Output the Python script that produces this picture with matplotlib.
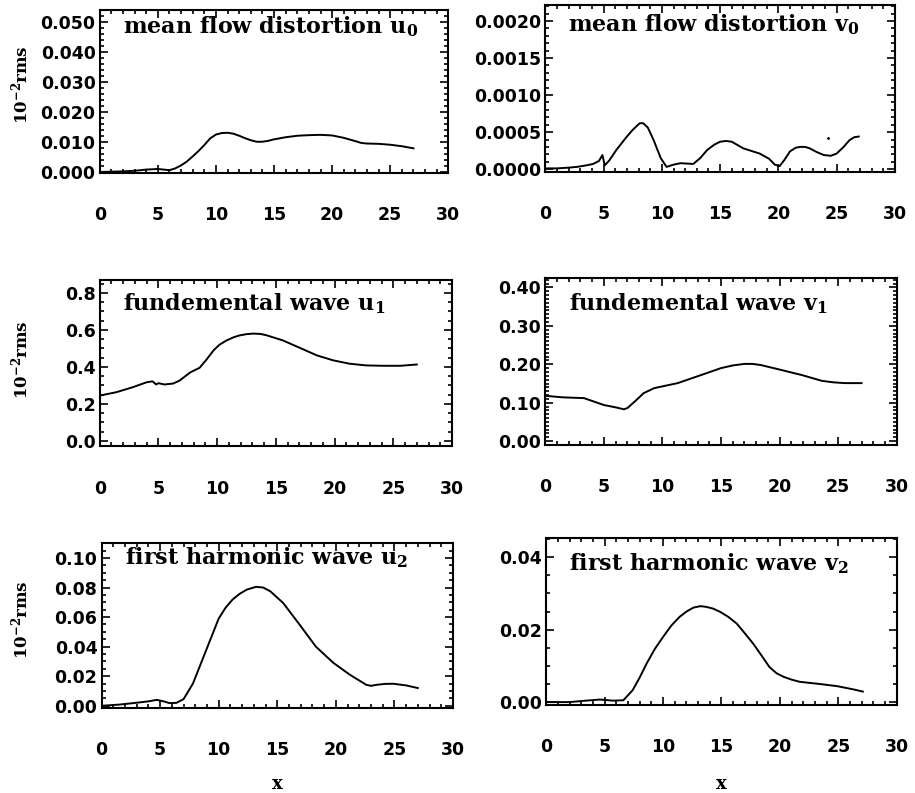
import matplotlib
matplotlib.use("Agg")
import matplotlib.pyplot as plt
from matplotlib.ticker import MultipleLocator, FormatStrFormatter

plt.rcParams["mathtext.fontset"] = "dejavuserif"

# mean flow distortion u0
x_u0 = [0, 1, 2, 3, 4, 5, 5.5, 6, 6.5, 7, 7.5, 8, 8.5, 9, 9.5, 10, 10.5, 11, 11.5,
        12, 12.5, 13, 13.5, 14, 14.5, 15, 16, 17, 18, 19, 20, 21, 22, 22.5, 23,
        24, 25, 26, 27]
u0 = [0.0, 0.0001, 0.0002, 0.0004, 0.0008, 0.0010, 0.0008, 0.0006, 0.0012, 0.0022,
      0.0035, 0.0052, 0.0070, 0.0090, 0.0112, 0.0125, 0.0130, 0.0131, 0.0128,
      0.0121, 0.0113, 0.0106, 0.0101, 0.0101, 0.0104, 0.0109, 0.0116, 0.0121,
      0.0123, 0.0124, 0.0122, 0.0114, 0.0103, 0.0097, 0.0095, 0.0094, 0.0091,
      0.0086, 0.0079]

# mean flow distortion v0
x_v0 = [0, 1, 2, 2.7, 3.5, 4.1, 4.6, 4.9, 5.1, 5.5, 6.1, 7.0, 7.5, 8.1, 8.4, 8.8,
        9.3, 9.9, 10.4, 11.0, 11.6, 12.7, 13.3, 13.9, 14.5, 15.0, 15.5, 16.0,
        17.0, 18.4, 19.2, 19.7, 20.1, 20.5, 21.0, 21.5, 21.9, 22.3, 22.7, 23.3,
        23.9, 24.5, 25.0, 25.6, 26.1, 26.5, 26.9]
v0 = [0.00001, 0.00001, 0.00002, 0.00003, 0.00005, 0.00007, 0.00011, 0.00019,
      0.00005, 0.00012, 0.00026, 0.00044, 0.00053, 0.00062, 0.00062, 0.00056,
      0.00039, 0.00015, 0.00003, 0.00006, 0.00008, 0.00007, 0.00015, 0.00026,
      0.00033, 0.00037, 0.00038, 0.00037, 0.00028, 0.00021, 0.00014, 0.00006,
      0.00004, 0.00012, 0.00024, 0.00029, 0.00030, 0.00030, 0.00028, 0.00023,
      0.00019, 0.00018, 0.00021, 0.00030, 0.00039, 0.00043, 0.00044]
dot_x = [24.3]
dot_v0 = [0.00042]

# fundemental wave u1
x_u1 = [0, 1.4, 2.8, 4.0, 4.5, 4.8, 5.0, 5.5, 6.25, 6.8, 7.7, 8.5, 9.1, 9.7, 10.2,
        10.8, 11.4, 11.9, 12.5, 13.1, 13.7, 14.2, 15.6, 17.0, 18.5, 19.9, 21.3,
        22.7, 24.1, 25.6, 27.0]
u1 = [0.245, 0.263, 0.290, 0.317, 0.322, 0.305, 0.312, 0.305, 0.310, 0.326, 0.370,
      0.395, 0.440, 0.490, 0.520, 0.543, 0.560, 0.570, 0.577, 0.580, 0.578,
      0.571, 0.543, 0.504, 0.462, 0.435, 0.417, 0.408, 0.406, 0.406, 0.413]

# fundemental wave v1
x_v1 = [0, 1.5, 3.3, 5.0, 6.0, 6.7, 7.0, 7.7, 8.4, 9.3, 11.3, 13.3, 15.0, 16.0,
        17.0, 17.7, 18.4, 19.9, 21.9, 23.6, 24.6, 25.6, 27.0]
v1 = [0.118, 0.114, 0.112, 0.094, 0.088, 0.083, 0.086, 0.105, 0.125, 0.138, 0.151,
      0.172, 0.190, 0.197, 0.201, 0.201, 0.198, 0.187, 0.172, 0.157, 0.153, 0.151,
      0.151]

# first harmonic wave u2
x_u2 = [0, 1.5, 2.7, 4.0, 4.7, 5.3, 5.8, 6.4, 7.0, 7.8, 8.7, 9.4, 10.0, 10.6, 11.2,
        11.8, 12.4, 13.2, 13.8, 14.4, 15.5, 16.9, 18.3, 19.8, 21.2, 22.6, 23.0,
        23.5, 24.2, 24.9, 26.0, 27.0]
u2 = [0.0, 0.0008, 0.0018, 0.0030, 0.0040, 0.0030, 0.0018, 0.0020, 0.0045, 0.0150,
      0.0330, 0.0470, 0.0590, 0.0665, 0.0720, 0.0758, 0.0786, 0.0805, 0.0800,
      0.0775, 0.0696, 0.0550, 0.0400, 0.0290, 0.0210, 0.0142, 0.0135, 0.0142,
      0.0148, 0.0149, 0.0138, 0.0120]

# first harmonic wave v2
x_v2 = [0, 2.0, 3.4, 4.6, 5.7, 6.6, 7.4, 8.0, 8.6, 9.3, 10.0, 10.7, 11.4, 12.0,
        12.6, 13.2, 13.7, 14.3, 14.9, 15.6, 16.3, 17.0, 17.7, 18.4, 19.1, 19.7,
        20.3, 21.0, 21.7, 23.4, 24.9, 26.3, 27.1]
v2 = [0.0, 0.0, 0.0004, 0.0007, 0.0004, 0.0005, 0.0033, 0.0068, 0.0107, 0.0147,
      0.0180, 0.0211, 0.0235, 0.0250, 0.0261, 0.0265, 0.0263, 0.0258, 0.0249,
      0.0235, 0.0217, 0.0190, 0.0162, 0.0130, 0.0097, 0.0080, 0.0070, 0.0062,
      0.0056, 0.0050, 0.0044, 0.0035, 0.0029]

titles = [r"mean flow distortion $\mathbf{u_0}$", r"mean flow distortion $\mathbf{v_0}$",
          r"fundemental wave $\mathbf{u_1}$", r"fundemental wave $\mathbf{v_1}$",
          r"first harmonic wave $\mathbf{u_2}$", r"first harmonic wave $\mathbf{v_2}$"]

fig = plt.figure(figsize=(9.15, 7.93), dpi=100)

# left, bottom, width, height, ylim, major, minor, fmt, title y
panels = [
    ([0.109, 0.782, 0.381, 0.205], (-0.0003, 0.054), 0.01, 0.002, "%.3f", 0.90),
    ([0.596, 0.783, 0.382, 0.211], (-0.00004, 0.00222), 0.0005, 0.0001, "%.4f", 0.88),
    ([0.109, 0.437, 0.385, 0.210], (-0.03, 0.87), 0.2, 0.05, "%.1f", 0.86),
    ([0.596, 0.439, 0.384, 0.210], (-0.0096, 0.4235), 0.1, 0.01, "%.2f", 0.85),
    ([0.111, 0.107, 0.384, 0.208], (-0.0016, 0.110), 0.02, 0.005, "%.2f", 0.915),
    ([0.597, 0.111, 0.383, 0.210], (-0.0008, 0.0452), 0.02, 0.005, "%.2f", 0.85),
]
data = [(x_u0, u0), (x_v0, v0), (x_u1, u1), (x_v1, v1), (x_u2, u2), (x_v2, v2)]

for i, (pos, ylim, major, minor, fmt, ty) in enumerate(panels):
    ax = fig.add_axes(pos)
    xs, ys = data[i]
    ax.plot(xs, ys, color="black", lw=1.4)
    if i == 1:
        ax.plot(dot_x, dot_v0, "k.", ms=2)
    ax.set_xlim(0, 30)
    ax.set_ylim(*ylim)
    ax.xaxis.set_major_locator(MultipleLocator(5))
    ax.xaxis.set_minor_locator(MultipleLocator(1))
    ax.yaxis.set_major_locator(MultipleLocator(major))
    ax.yaxis.set_minor_locator(MultipleLocator(minor))
    ax.yaxis.set_major_formatter(FormatStrFormatter(fmt))
    ax.tick_params(which="both", direction="in", top=True, right=True, width=1.2)
    ax.tick_params(which="major", length=6)
    ax.tick_params(which="minor", length=3)
    ax.tick_params(axis="x", which="major", pad=24)
    ax.tick_params(axis="y", which="major", pad=3)
    for lab in ax.get_xticklabels() + ax.get_yticklabels():
        lab.set_fontweight("bold")
        lab.set_fontsize(12.5)
    for sp in ax.spines.values():
        sp.set_linewidth(1.5)
    ax.text(0.066, ty, titles[i], transform=ax.transAxes, ha="left", va="center",
            fontsize=16, fontweight="bold", family="DejaVu Serif")

# y labels on the left column
for yc in [85, 360, 620]:
    fig.text(20 / 915, 1 - yc / 793, r"10$^{\mathbf{-2}}$rms", rotation=90, ha="center",
             va="center", fontsize=12, fontweight="bold", family="DejaVu Serif")

# x labels under bottom row
fig.text(277 / 915, 1 - 784 / 793, "x", ha="center", va="center", fontsize=13,
         fontweight="bold", family="DejaVu Serif")
fig.text(721 / 915, 1 - 784 / 793, "x", ha="center", va="center", fontsize=13,
         fontweight="bold", family="DejaVu Serif")

fig.savefig("out.png", dpi=100)
